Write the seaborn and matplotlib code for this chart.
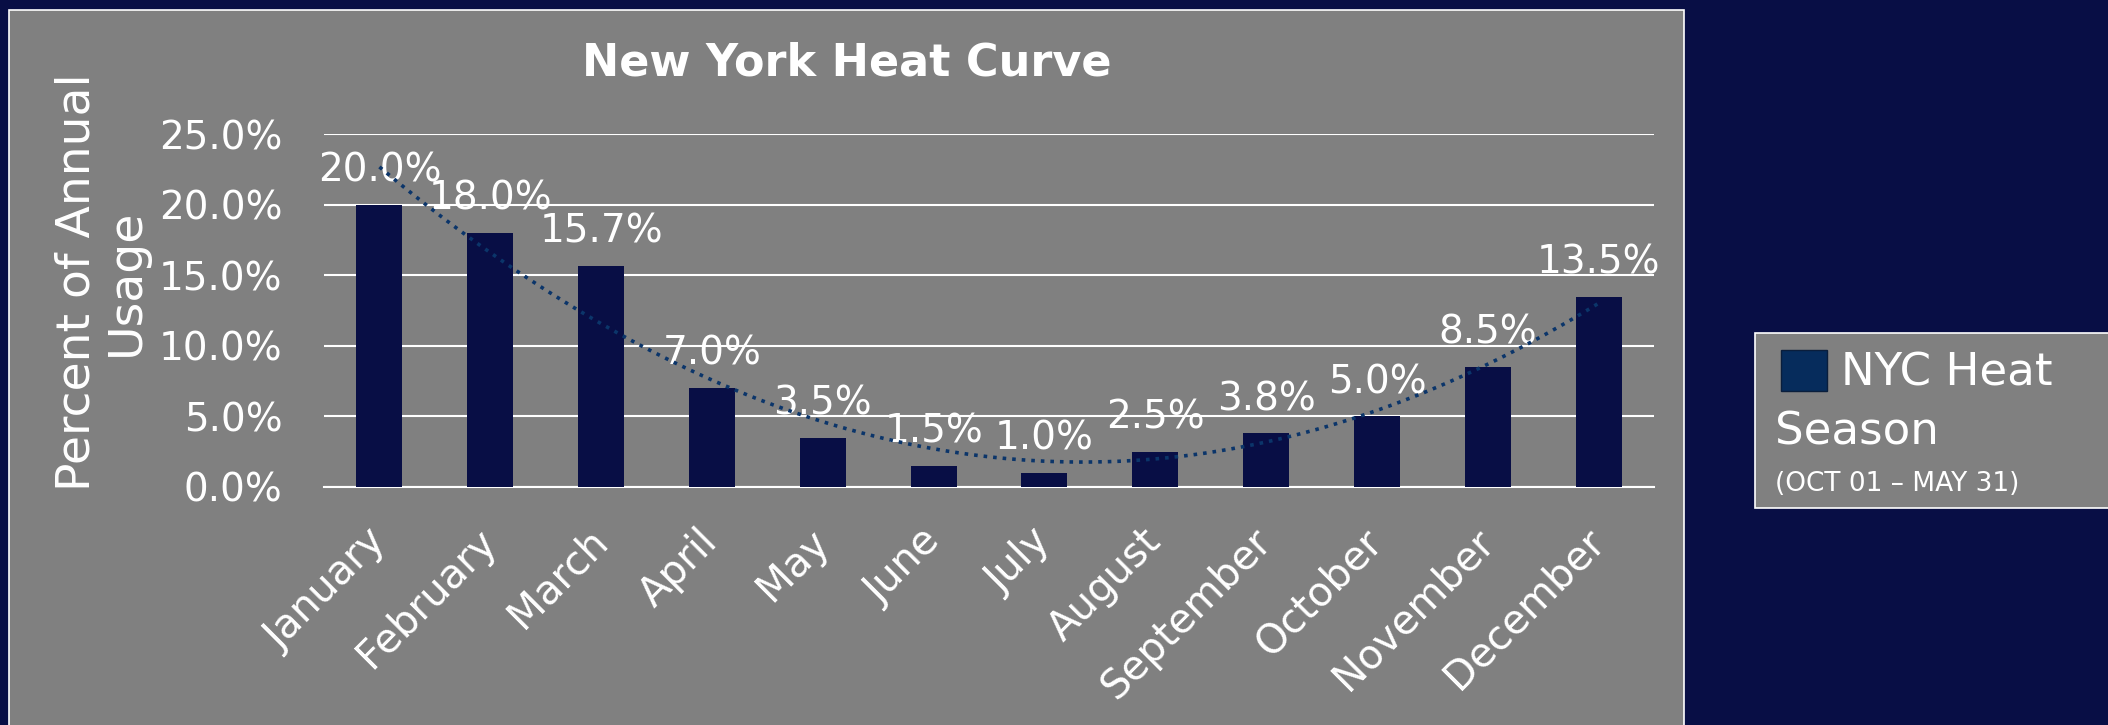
import numpy as np
import matplotlib
matplotlib.use('Agg')
import matplotlib.pyplot as plt
from matplotlib.patches import Rectangle, Patch
import seaborn as sns


#-------------------------data-------------------------

months = ['January', 'February', 'March', 'April', 'May', 'June',
          'July', 'August', 'September', 'October', 'November', 'December']
usage = [20.0, 18.0, 15.7, 7.0, 3.5, 1.5, 1.0, 2.5, 3.8, 5.0, 8.5, 13.5]
y_ticks = [0, 5, 10, 15, 20, 25]

legend_label = 'NYC Heat'
legend_label2 = 'Season'
legend_note = '(OCT 01 \u2013 MAY 31)'

navy = '#080E45'
grey = '#808080'
trend_blue = '#0B356A'
legend_blue = '#062C5C'

W, H = 2108, 725

sns.set_style('white')
plt.rcParams['font.family'] = ['DejaVu Sans']
num_font = ['Liberation Sans Narrow', 'DejaVu Sans']


#-------------------------figure-------------------------

fig = plt.figure(figsize=(W / 100, H / 100), dpi=100, facecolor=navy)

# grey chart panel behind the axes
fig.patches.append(Rectangle((9 / W, -0.02), (1684 - 9) / W, 1.02 - 9.5 / H,
                             transform=fig.transFigure, facecolor=grey,
                             edgecolor='white', lw=1.2, zorder=-2))

ax = fig.add_axes([324 / W, 1 - 487 / H, 1330 / W, (487 - 134.4) / H])
ax.set_zorder(1)
ax.patch.set_alpha(0)

sns.barplot(x=months, y=usage, color=navy, saturation=1, width=0.415,
            errorbar=None, linewidth=0, ax=ax, zorder=3)

# polynomial (order 2) trendline like the excel one
sns.regplot(x=np.arange(len(months)), y=usage, order=2, ci=None,
            scatter=False, ax=ax,
            line_kws=dict(color=trend_blue, ls=':', lw=2.6, zorder=4))

ax.set_xlim(-0.5, len(months) - 0.5)
ax.set_ylim(0, 25)

# data labels
ax.bar_label(ax.containers[0], labels=[f'{v:.1f}%' for v in usage],
             padding=11, color='white', fontsize=28, family=num_font)

# y axis
ax.set_yticks(y_ticks)
ax.set_yticklabels([f'{t:.1f}%' for t in y_ticks], family=num_font,
                   fontsize=28, color='white')
ax.tick_params(axis='y', length=0, pad=30)
ax.yaxis.grid(True, color='white', lw=1.5, zorder=0)
ax.set_axisbelow(True)

ax.set_ylabel('Percent of Annual\nUsage', fontsize=34, color='white',
              linespacing=1.12)
ax.yaxis.label.set_va('center')
ax.yaxis.set_label_coords(-0.167, 0.581)

# x axis
ax.set_xticks(range(len(months)))
ax.set_xticklabels(months, rotation=45, ha='right', va='center',
                   rotation_mode='anchor', fontsize=29, color='white')
ax.set_xticks(np.arange(-0.5, len(months), 1), minor=True)
ax.tick_params(axis='x', which='major', length=0, pad=35)
ax.tick_params(axis='x', which='minor', length=9.5, width=1.3,
               color='white', direction='out')
ax.set_xlabel('')

for s in ['top', 'right', 'left']:
    ax.spines[s].set_visible(False)
ax.spines['bottom'].set_color('white')
ax.spines['bottom'].set_linewidth(1.5)

# title centred on the grey panel
fig.text(847 / W, 1 - 63 / H, 'New York Heat Curve', ha='center',
         va='center', fontsize=32, fontweight='bold', color='white')


#-------------------------legend-------------------------

fig.patches.append(Rectangle((1755 / W, 1 - 508 / H), (2115 - 1755) / W,
                             175 / H, transform=fig.transFigure,
                             facecolor=grey, edgecolor='white', lw=1.2,
                             zorder=-2))

handle = Patch(facecolor=legend_blue, edgecolor='#0A1E3C', lw=1)
fig.legend(handles=[handle], labels=[legend_label], loc='upper left',
           bbox_to_anchor=(1781 / W, 1 - 350 / H), frameon=False,
           fontsize=32.5, labelcolor='white', handlelength=1.03,
           handleheight=1.01, handletextpad=0.3, borderpad=0,
           borderaxespad=0)
fig.text(1775 / W, 1 - 432 / H, legend_label2, ha='left', va='center',
         fontsize=32.5, color='white')
fig.text(1775 / W, 1 - 484 / H, legend_note, ha='left', va='center',
         fontsize=19, color='white')

plt.savefig('out.png', dpi=100, facecolor=navy)
